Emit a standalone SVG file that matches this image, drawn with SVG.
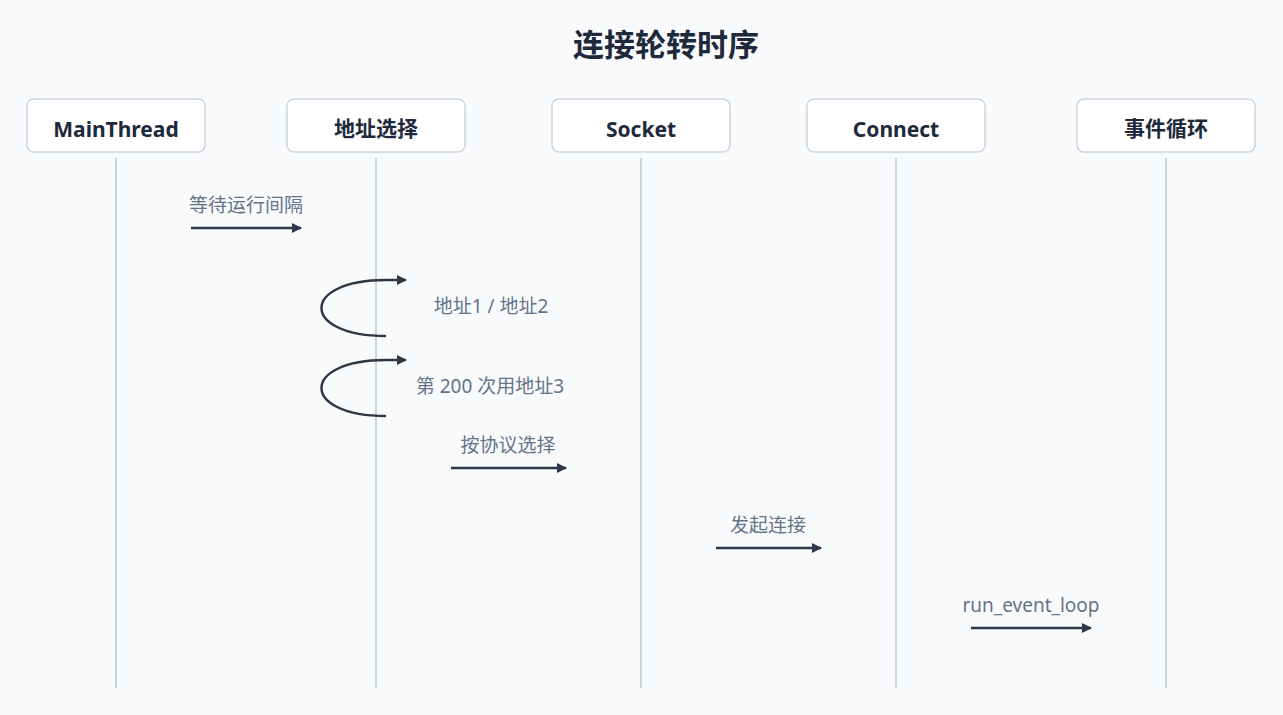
<svg xmlns="http://www.w3.org/2000/svg" width="1283" height="715" viewBox="0 0 1283 715">
<style>
.box{fill:#fff;stroke:#cbd5e1;stroke-width:1.5}
.nt{font-family:"Noto Sans","Noto Sans CJK SC",sans-serif;font-size:21px;font-weight:bold;fill:#1e293b;text-anchor:middle}
.life{stroke:#cbd5e1;stroke-width:2}
.msg{stroke:#2d3748;stroke-width:2.5;fill:none}
.lbl{font-family:"Noto Sans","Noto Sans CJK SC",sans-serif;font-size:19px;fill:#64748b;text-anchor:middle}
</style>
<defs><marker id="ah" markerWidth="10" markerHeight="10" refX="9" refY="5" orient="auto" markerUnits="userSpaceOnUse"><path d="M0,0 L10,5 L0,10 z" fill="#2d3748"/></marker></defs>
<rect width="1283" height="715" fill="#f8fafc"/>
<text x="666" y="56" font-family="'Noto Sans','Noto Sans CJK SC',sans-serif" font-size="31" font-weight="bold" fill="#1e293b" text-anchor="middle">连接轮转时序</text>
<g id="lifelines">
<line class="life" x1="116" y1="158" x2="116" y2="688"/>
<line class="life" x1="376" y1="158" x2="376" y2="688"/>
<line class="life" x1="641" y1="158" x2="641" y2="688"/>
<line class="life" x1="896" y1="158" x2="896" y2="688"/>
<line class="life" x1="1166" y1="158" x2="1166" y2="688"/>
</g>
<g id="n1"><rect class="box" x="27" y="99" width="178" height="53" rx="7"/><text class="nt" x="116" y="137">MainThread</text></g>
<g id="n2"><rect class="box" x="287" y="99" width="178" height="53" rx="7"/><text class="nt" x="376" y="136">地址选择</text></g>
<g id="n3"><rect class="box" x="552" y="99" width="178" height="53" rx="7"/><text class="nt" x="641" y="137">Socket</text></g>
<g id="n4"><rect class="box" x="807" y="99" width="178" height="53" rx="7"/><text class="nt" x="896" y="137">Connect</text></g>
<g id="n5"><rect class="box" x="1077" y="99" width="178" height="53" rx="7"/><text class="nt" x="1166" y="136">事件循环</text></g>
<g id="connectors">
<line class="msg" x1="191" y1="228" x2="301" y2="228" marker-end="url(#ah)"/>
<path class="msg" d="M386,336 C300,336 300,280 386,280 L406,280" marker-end="url(#ah)"/>
<path class="msg" d="M386,416 C300,416 300,360 386,360 L406,360" marker-end="url(#ah)"/>
<line class="msg" x1="451" y1="468" x2="566" y2="468" marker-end="url(#ah)"/>
<line class="msg" x1="716" y1="548" x2="821" y2="548" marker-end="url(#ah)"/>
<line class="msg" x1="971" y1="628" x2="1091" y2="628" marker-end="url(#ah)"/>
</g>
<g id="labels">
<text class="lbl" x="246" y="212">等待运行间隔</text>
<text class="lbl" x="491" y="313">地址1 / 地址2</text>
<text class="lbl" x="490" y="393">第 200 次用地址3</text>
<text class="lbl" x="508" y="452">按协议选择</text>
<text class="lbl" x="768" y="532">发起连接</text>
<text class="lbl" x="1031" y="612">run_event_loop</text>
</g>
</svg>
